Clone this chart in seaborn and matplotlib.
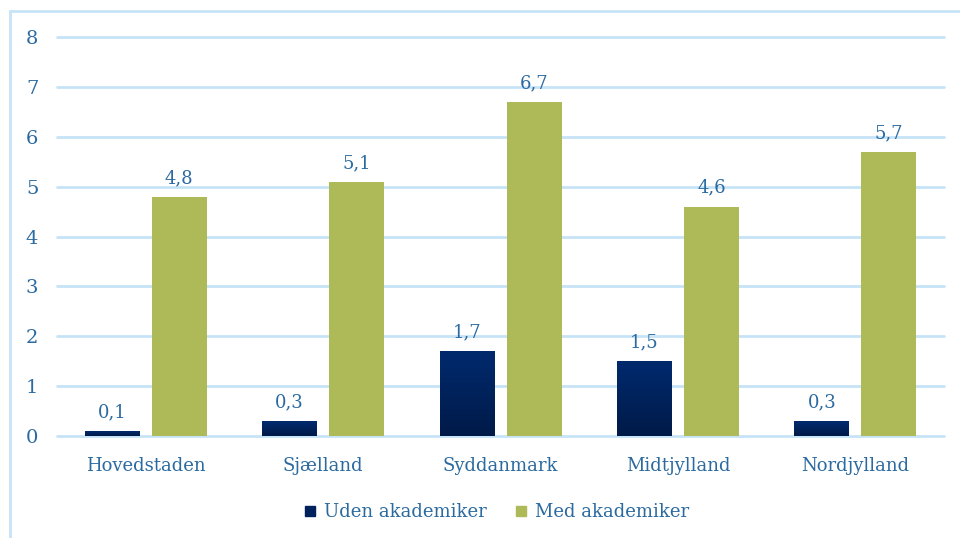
import numpy as np
import pandas as pd
import matplotlib
matplotlib.use("Agg")
import matplotlib.pyplot as plt
from matplotlib.lines import Line2D
from matplotlib.colors import LinearSegmentedColormap
import seaborn as sns

regions = ["Hovedstaden", "Sjælland", "Syddanmark", "Midtjylland", "Nordjylland"]
series = ["Uden akademiker", "Med akademiker"]
uden = [0.1, 0.3, 1.7, 1.5, 0.3]
med = [4.8, 5.1, 6.7, 4.6, 5.7]
yticks = [0, 1, 2, 3, 4, 5, 6, 7, 8]

df = pd.DataFrame({
    "region": regions * 2,
    "serie": [series[0]] * len(regions) + [series[1]] * len(regions),
    "value": uden + med,
})

sns.set_theme(style="white")
plt.rcParams["font.family"] = ["DejaVu Serif"]

TXT = "#2B6AA0"
GRID = "#C6E4F8"
NAVY = "#00225C"
GREEN = "#AEBA57"

fig = plt.figure(figsize=(9.6, 5.38), dpi=100)
ax = fig.add_axes([0.0594, 0.1896, 0.924, 0.7416])

sns.barplot(data=df, x="region", y="value", hue="serie", hue_order=series,
            palette=[NAVY, GREEN], width=0.756, gap=0.18, ax=ax,
            saturation=1, legend=False, errorbar=None, linewidth=0)

ax.set_ylim(0, 8)
ax.set_xlim(-0.5, 4.5)
ax.set_yticks(yticks)
ax.set_yticklabels([str(t) for t in yticks])
ax.yaxis.grid(True, color=GRID, linewidth=2)
for gl in ax.get_ygridlines():
    gl.set_clip_on(False)
ax.set_axisbelow(True)
for s in ax.spines.values():
    s.set_visible(False)
ax.set_xlabel("")
ax.set_ylabel("")
ax.tick_params(axis="y", length=0, pad=13.5, labelsize=14, labelcolor=TXT)
ax.tick_params(axis="x", length=0, pad=15, labelsize=13, labelcolor=TXT)

# gradient on navy bars
navy_cmap = LinearSegmentedColormap.from_list("n", ["#001A48", "#002A6E"])
grad = np.linspace(0, 1, 256).reshape(-1, 1)
for p in ax.patches:
    x, y = p.get_x(), p.get_y()
    w, h = p.get_width(), p.get_height()
    if h <= 0:
        continue
    fc = p.get_facecolor()
    if fc[2] > 0.2 and fc[0] < 0.1:
        im = ax.imshow(grad, cmap=navy_cmap, aspect="auto", origin="lower",
                       extent=[x, x + w, y, y + h], zorder=p.get_zorder() + 0.1)
        im.set_clip_path(p)

# value labels
for container in ax.containers:
    labels = [f"{v:.1f}".replace(".", ",") for v in container.datavalues]
    ax.bar_label(container, labels=labels, padding=7, color=TXT, fontsize=13)
ax.set_xlim(-0.5, 4.5)
ax.set_ylim(0, 8)

# legend
handles = [Line2D([0], [0], marker="s", linestyle="", markersize=7,
                  markerfacecolor=c, markeredgecolor=c) for c in [NAVY, GREEN]]
fig.legend(handles, series, loc="center", bbox_to_anchor=(0.5146, 0.048), ncol=2,
           frameon=False, fontsize=13, labelcolor=TXT, handletextpad=0.17,
           columnspacing=1.29, handlelength=1.2)

# outer border
fig.add_artist(Line2D([10 / 960, 10 / 960], [0, 1 - 11 / 538], transform=fig.transFigure,
                      color=GRID, linewidth=2))
fig.add_artist(Line2D([10 / 960, 1], [1 - 11 / 538, 1 - 11 / 538], transform=fig.transFigure,
                      color=GRID, linewidth=2))

fig.savefig("out.png", dpi=100)
